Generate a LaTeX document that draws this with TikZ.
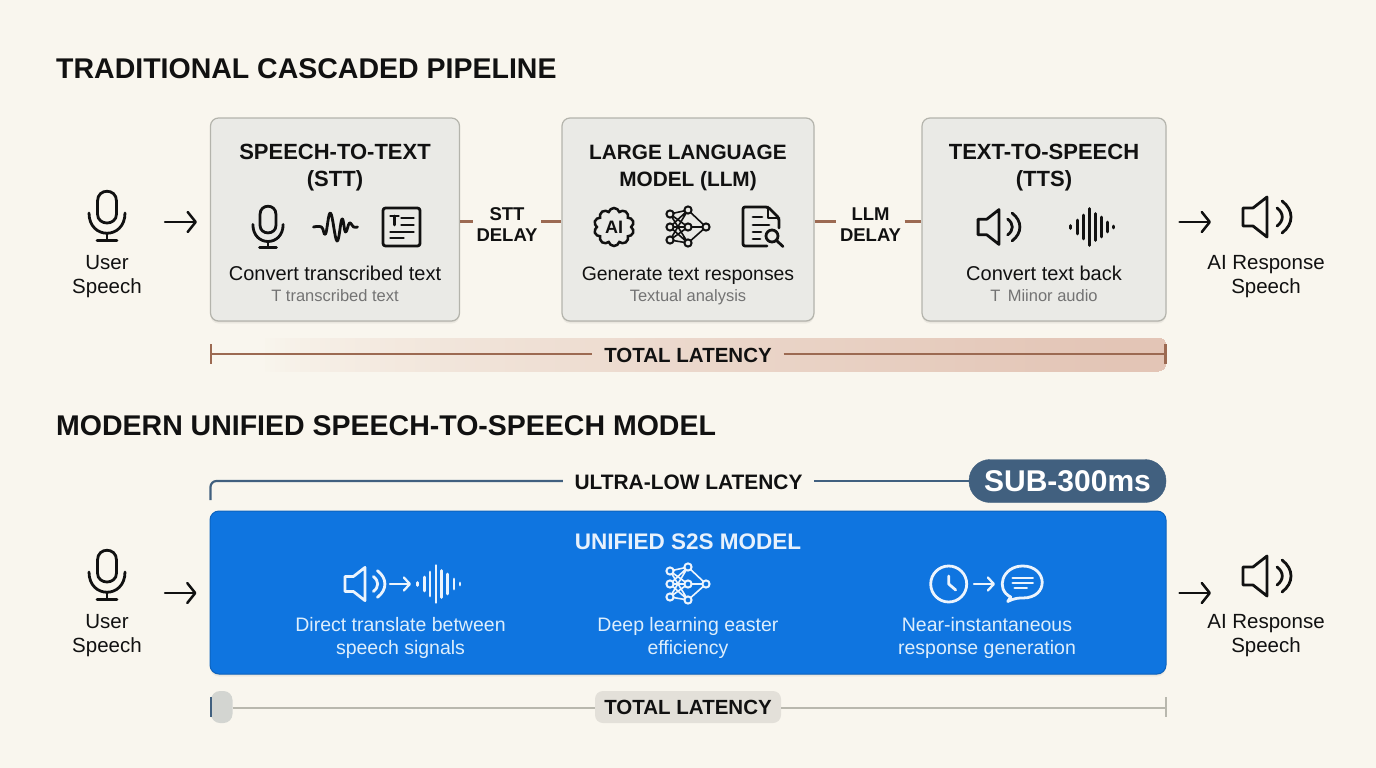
\documentclass[tikz,border=0pt]{standalone}
\usepackage{fontspec}
\setmainfont{Liberation Sans}
\usetikzlibrary{arrows.meta,shadows,shapes.symbols}
\definecolor{bgc}{HTML}{F9F6EE}
\definecolor{boxc}{HTML}{EAEAE6}
\definecolor{boxl}{HTML}{B4B4AC}
\definecolor{brownl}{HTML}{9C6A52}
\definecolor{bandr}{HTML}{E3C5B6}
\definecolor{slate}{HTML}{41607F}
\definecolor{blue1}{HTML}{0F75E0}
\definecolor{greyl}{HTML}{B9B8AE}
\definecolor{ink}{HTML}{111111}
\definecolor{pale}{HTML}{DDEEFC}
\definecolor{pillg}{HTML}{D3D5D1}
\colorlet{iconcol}{ink}
\colorlet{iconbg}{boxc}
\tikzset{
  softshadow/.style={drop shadow={shadow xshift=0pt,shadow yshift=-1pt,opacity=.06,fill=black},
    drop shadow={shadow xshift=0pt,shadow yshift=-2.5pt,opacity=.05,fill=black}},
  stage/.style={draw=boxl,line width=1.2pt,fill=boxc,rounded corners=8pt,inner sep=0pt,softshadow},
  ico/.style={draw=iconcol,line width=2.8pt,line cap=round,line join=round},
  flow/.style={ink,line width=2.5pt,line cap=round,-{Straight Barb[length=8pt,width=20pt,round]}},
  miniflow/.style={white!92!blue1,line width=2.3pt,line cap=round,-{Straight Barb[length=6pt,width=13pt,round]}},
  delayline/.style={brownl,line width=2.2pt},
  latline/.style={brownl,line width=2.2pt},
  head/.style={anchor=west,inner sep=0pt,ink,font=\bfseries\fontsize{28.5}{32}\selectfont},
  stagetitle/.style={align=center,inner sep=0pt,ink,font=\bfseries\fontsize{22}{27}\selectfont},
  stagetext/.style={anchor=base,inner sep=0pt,ink,font=\fontsize{20}{24}\selectfont},
  stagesub/.style={anchor=base,inner sep=0pt,color=black!55,font=\fontsize{16.5}{20}\selectfont},
  portlabel/.style={align=center,inner sep=0pt,ink,font=\fontsize{20.5}{24}\selectfont},
  delaylabel/.style={align=center,inner sep=0pt,ink,minimum width=68pt,font=\bfseries\fontsize{18.5}{21}\selectfont},
  totallabel/.style={inner sep=0pt,ink,minimum width=186pt,minimum height=32pt,font=\bfseries\fontsize{20.5}{24}\selectfont},
  bluetext/.style={align=center,inner sep=0pt,pale,font=\fontsize{19.5}{23}\selectfont},
  pics/micro/.style={code={
    \draw[ico] (-9.5,-15) -- (-9.5,-2) .. controls (-9.5,10) and (9.5,10) .. (9.5,-2) -- (9.5,-15)
       .. controls (9.5,-28) and (-9.5,-28) .. (-9.5,-15) -- cycle;
    \draw[ico] (-18,-3) .. controls (-18,24) and (18,24) .. (18,-3);
    \draw[ico] (0,17) -- (0,24) (-10,24.5) -- (10,24.5);
  }},
  pics/speaker/.style={code={
    \draw[ico] (0,-20) -- (-14,-9) -- (-24,-9) -- (-24,9) -- (-14,9) -- (0,20) -- cycle;
    \draw[ico] (10,-9) .. controls (17,-4) and (17,4) .. (10,9);
    \draw[ico] (15,-16) .. controls (27,-7) and (27,7) .. (15,16);
  }},
  pics/bars/.style={code={
    \draw[ico] (-18.7,-1.5) -- (-18.7,1.5) (-11.7,-7) -- (-11.7,7) (-6,-12) -- (-6,12)
      (0,-18.5) -- (0,18.5) (5.7,-13.5) -- (5.7,13.5) (11.7,-10) -- (11.7,10)
      (18,-5) -- (18,5) (24,-1) -- (24,1);
  }},
  pics/squiggle/.style={code={
    \draw[ico] plot[smooth,tension=.7] coordinates {(-22,0) (-14,0) (-10,7) (-5,-14) (1.5,14) (6.5,-8) (10,5) (14,-4) (18,0) (22,0)};
  }},
  pics/textdoc/.style={code={
    \draw[ico,rounded corners=2.5pt] (-18.5,-19) rectangle (18.5,19);
    \draw[ico] (-11,-11) -- (-3,-11) (-7,-11) -- (-7,-2) (0,-9) -- (12,-9) (0,-2) -- (12,-2) (-11,5) -- (12,5) (-11,11) -- (2,11);
  }},
  pics/neural/.style={code={
    \draw[draw=iconcol,line width=1.6pt] (-18,-13) -- (0,-17) (-18,-13) -- (0,0) (-18,-13) -- (0,16)
      (-18,0) -- (0,-17) (-18,0) -- (0,0) (-18,0) -- (0,16)
      (-18,13) -- (0,-17) (-18,13) -- (0,0) (-18,13) -- (0,16)
      (0,-17) -- (18,0) (0,0) -- (18,0) (0,16) -- (18,0);
    \foreach \p in {(-18,-13),(-18,0),(-18,13),(0,-17),(0,0),(0,16),(18,0)}
      \draw[draw=iconcol,fill=iconbg,line width=2pt] \p circle (3.6);
  }},
  pics/searchdoc/.style={code={
    \draw[ico,rounded corners=2pt] (4,19) -- (-20,19) -- (-20,-20) -- (5,-20) -- (16,-9) -- (16,1);
    \draw[ico] (5,-20) -- (5,-9) -- (16,-9);
    \draw[ico] (-10,-10) -- (-1,-10) (-10,-2) -- (6,-2) (-10,5) -- (-2,5) (-10,12) -- (-3,12);
    \draw[ico] (9,9) circle (6);
    \draw[ico] (13.5,13.5) -- (20,19.5);
  }},
  pics/clockface/.style={code={
    \draw[ico] (0,0) circle (18);
    \draw[ico] (0,-8) -- (0,0) -- (7,6);
  }},
  pics/chat/.style={code={
    \draw[ico] (-12,14) .. controls (-28,6) and (-20,-17) .. (0,-17) .. controls (25,-17) and (27,15) .. (0,15)
      .. controls (-4,15) and (-8,15) .. (-15,18.5) .. controls (-14,17) and (-13,16) .. (-12,14) -- cycle;
    \draw[ico] (-10,-5) -- (10,-5) (-10,0) -- (10,0) (-8,5) -- (4,5);
  }},
}
\begin{document}
\begin{tikzpicture}[x=1pt,y=-1pt]
\useasboundingbox[fill=bgc] (0,0) rectangle (1376,768);

% --- top section
\node[head] (title1) at (56,69) {TRADITIONAL CASCADED PIPELINE};

\node[stage,minimum width=249pt,minimum height=203pt] (stt) at (335,219.5) {};
\node[stage,minimum width=252pt,minimum height=203pt] (llm) at (688,219.5) {};
\node[stage,minimum width=244pt,minimum height=203pt] (tts) at (1044,219.5) {};

\node[stagetitle] (sttT) at (335,168) {SPEECH-TO-TEXT\\(STT)};
\node[stagetitle,font=\bfseries\fontsize{20.8}{27}\selectfont] (llmT) at (688,168) {LARGE LANGUAGE\\MODEL (LLM)};
\node[stagetitle] (ttsT) at (1044,168) {TEXT-TO-SPEECH\\(TTS)};

\node[stagetext] (sttA) at (335,280) {Convert transcribed text};
\node[stagesub] (sttB) at (335,301) {T transcribed text};
\node[stagetext,font=\fontsize{19.4}{24}\selectfont] (llmA) at (688,280) {Generate text responses};
\node[stagesub] (llmB) at (688,301) {Textual analysis};
\node[stagetext] (ttsA) at (1044,280) {Convert text back};
\node[stagesub] (ttsB) at (1044,301) {T\, Miinor audio};

\pic at (107,216) {micro};
\node[portlabel] (userA) at (107,276.5) {User\\Speech};
\pic[scale=.84] at (268,227) {micro};
\pic at (335.5,227) {squiggle};
\pic at (401.5,227) {textdoc};
\node[cloud,cloud puffs=10,aspect=1.05,draw=ink,line width=2.5pt,minimum width=40pt,minimum height=38pt,inner sep=0pt,ink,font=\bfseries\fontsize{18}{20}\selectfont] (aiicon) at (614,227) {AI};
\pic at (688,227) {neural};
\pic at (763,227) {searchdoc};
\pic[scale=.87] at (999,227) {speaker};
\pic at (1089.5,227) {bars};
\pic at (1267,217) {speaker};
\node[portlabel] (aiA) at (1266,276.5) {AI Response\\Speech};

\coordinate (pA) at (165,222);
\draw[flow,shorten >=13pt] (pA) -- (pA -| stt.west);
\coordinate (pB) at (1211,222);
\draw[flow,shorten <=13pt] (pB -| tts.east) -- (pB);

\node[delaylabel] (delayA) at (507,224.5) {STT\\DELAY};
\node[delaylabel] (delayB) at (870.5,224.5) {LLM\\DELAY};
\coordinate (rowD) at (0,221.5);
\draw[delayline] (rowD -| stt.east) -- (rowD -| delayA.west);
\draw[delayline] (rowD -| delayA.east) -- (rowD -| llm.west);
\draw[delayline] (rowD -| llm.east) -- (rowD -| delayB.west);
\draw[delayline] (rowD -| delayB.east) -- (rowD -| tts.west);

\foreach \i in {0,...,170} {
  \pgfmathsetmacro\xx{260+\i*5}
  \pgfmathsetmacro\pct{100*(\i/170)^0.7}
  \fill[bandr!\pct!bgc] (\xx,338) [rounded corners=8pt] -- (1166,338) -- (1166,371) [sharp corners] -- (\xx,371) -- cycle;
}
\node[totallabel,minimum width=191pt] (totalA) at (688,355) {TOTAL LATENCY};
\coordinate (tAl) at (211,354);
\coordinate (tAr) at (1165.5,354);
\draw[latline] (tAl) -- (tAl -| totalA.west);
\draw[latline] (tAl -| totalA.east) -- (tAr);
\draw[latline] (211,344) -- (211,364);
\draw[latline] (1165.5,344) -- (1165.5,364);

% --- bottom section
\node[head] (title2) at (56,426) {MODERN UNIFIED SPEECH-TO-SPEECH MODEL};

\node[draw=slate,fill=slate,rounded corners=21pt,minimum width=197pt,minimum height=43pt,inner sep=0pt,text=white,font=\bfseries\fontsize{30}{34}\selectfont] (sub) at (1067.5,481) {SUB-300ms};
\node[inner sep=0pt,ink,minimum width=251pt,font=\bfseries\fontsize{20.9}{24}\selectfont] (ultra) at (688.5,482) {ULTRA-LOW LATENCY};
\coordinate (uL) at (210.5,500);
\coordinate (uRow) at (0,481);
\draw[slate,line width=2.2pt,rounded corners=6pt] (uL) -- (uL |- uRow) -- (uRow -| ultra.west);
\draw[slate,line width=2.2pt] (uRow -| ultra.east) -- (uRow -| sub.west);

\node[draw=blue1!85!black,line width=1pt,fill=blue1,rounded corners=9pt,minimum width=956pt,minimum height=163pt,inner sep=0pt,softshadow] (s2s) at (688,592.5) {};
\node[inner sep=0pt,white!90!blue1,font=\bfseries\fontsize{22.5}{26}\selectfont] (s2sT) at (688,541.5) {UNIFIED S2S MODEL};

\pic at (107,575) {micro};
\node[portlabel] (userB) at (107,635.5) {User\\Speech};
\pic at (1267,576) {speaker};
\node[portlabel] (aiB) at (1266,635.5) {AI Response\\Speech};
\coordinate (pC) at (165,593);
\draw[flow,shorten >=13pt] (pC) -- (pC -| s2s.west);
\coordinate (pD) at (1211,593);
\draw[flow,shorten <=13pt] (pD -| s2s.east) -- (pD);

\begin{scope}
\colorlet{iconcol}{white!92!blue1}
\colorlet{iconbg}{blue1}
\pic[scale=.83] at (365,584) {speaker};
\coordinate (ia1) at (390,584);
\coordinate (ia2) at (411,584);
\draw[miniflow] (ia1) -- (ia2);
\pic at (436,584) {bars};
\pic at (688,584) {neural};
\pic at (948.7,584) {clockface};
\coordinate (ib1) at (974,584);
\coordinate (ib2) at (995,584);
\draw[miniflow] (ib1) -- (ib2);
\pic at (1022.7,583) {chat};
\end{scope}

\node[bluetext] (bt1) at (400.5,638) {Direct translate between\\speech signals};
\node[bluetext] (bt2) at (688,638) {Deep learning easter\\efficiency};
\node[bluetext] (bt3) at (987,638) {Near-instantaneous\\response generation};

\fill[fill=pillg,rounded corners=9pt] (211,691) rectangle (232.5,723);
\node[totallabel,fill=black!9!bgc,rounded corners=8pt] (totalB) at (688,707) {TOTAL LATENCY};
\coordinate (tBl) at (232.5,707.5);
\coordinate (tBr) at (1165.5,707.5);
\draw[greyl,line width=2pt] (tBl) -- (tBl -| totalB.west);
\draw[greyl,line width=2pt] (tBl -| totalB.east) -- (tBr);
\draw[greyl,line width=2pt] (1165.5,697) -- (1165.5,717);
\draw[slate,line width=2.5pt] (211,697) -- (211,717);
\end{tikzpicture}
\end{document}
